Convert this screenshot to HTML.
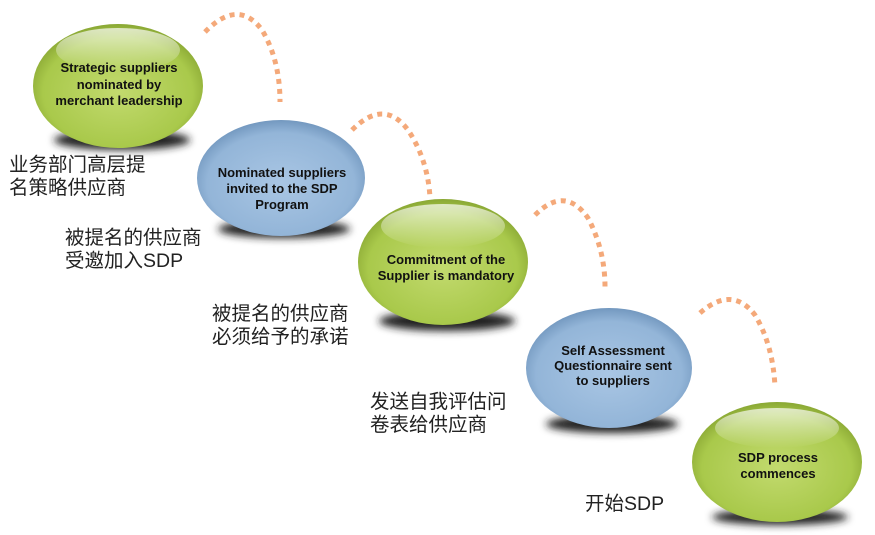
<!DOCTYPE html>
<html><head><meta charset="utf-8"><style>
body{margin:0;background:#fff;width:875px;height:535px;overflow:hidden;position:relative;font-family:"Liberation Sans",sans-serif}
.cn{position:absolute;font-family:"Liberation Sans","Noto Sans CJK SC",sans-serif;font-size:19.5px;line-height:22.5px;color:#222}
</style></head><body>
<svg width="875" height="535" style="position:absolute;left:0;top:0">
<defs>
<radialGradient id="g" cx="50%" cy="55%" r="55%"><stop offset="0" stop-color="#c2da6e"/><stop offset="0.8" stop-color="#a9c94b"/><stop offset="1" stop-color="#8aa834"/></radialGradient>
<radialGradient id="b" cx="50%" cy="55%" r="55%"><stop offset="0" stop-color="#a9c6e4"/><stop offset="0.8" stop-color="#93b5d8"/><stop offset="1" stop-color="#7398bf"/></radialGradient>
<linearGradient id="hl" x1="0" y1="0" x2="0" y2="1"><stop offset="0" stop-color="#fff" stop-opacity="0.7"/><stop offset="1" stop-color="#fff" stop-opacity="0"/></linearGradient>
<filter id="bl"><feGaussianBlur stdDeviation="4"/></filter>
</defs>
<g fill="none" stroke="#f4a97a" stroke-width="5" stroke-dasharray="5 5">
<path d="M205 32 Q238 -2 262 30 Q280 60 280 102"/>
<path d="M352 130 Q384 98 408 130 Q428 160 430 198"/>
<path d="M535 215 Q565 185 588 218 Q605 250 605 287"/>
<path d="M700 313 Q732 285 755 315 Q773 345 775 387"/>
</g>
<g filter="url(#bl)" fill="#222">
<ellipse cx="122" cy="140" rx="68" ry="10"/>
<ellipse cx="284" cy="229" rx="66" ry="9"/>
<ellipse cx="447" cy="321" rx="68" ry="10"/>
<ellipse cx="612" cy="424" rx="66" ry="9"/>
<ellipse cx="780" cy="517" rx="68" ry="8"/>
</g>
<ellipse cx="118" cy="86" rx="85" ry="62" fill="url(#g)"/>
<ellipse cx="118" cy="50" rx="62" ry="22" fill="url(#hl)"/>
<ellipse cx="281" cy="178" rx="84" ry="58" fill="url(#b)"/>
<ellipse cx="443" cy="262" rx="85" ry="63" fill="url(#g)"/>
<ellipse cx="443" cy="226" rx="62" ry="22" fill="url(#hl)"/>
<ellipse cx="609" cy="368" rx="83" ry="60" fill="url(#b)"/>
<ellipse cx="777" cy="462" rx="85" ry="60" fill="url(#g)"/>
<ellipse cx="777" cy="428" rx="62" ry="20" fill="url(#hl)"/>
<g font-family="Liberation Sans,sans-serif" font-weight="bold" font-size="13" text-anchor="middle" fill="#111">
<text x="119" y="72">Strategic suppliers</text><text x="119" y="89">nominated by</text><text x="119" y="105">merchant leadership</text>
<text x="282" y="177">Nominated suppliers</text><text x="282" y="193">invited to the SDP</text><text x="282" y="209">Program</text>
<text x="446" y="264">Commitment of the</text><text x="446" y="280">Supplier is mandatory</text>
<text x="613" y="355">Self Assessment</text><text x="613" y="370">Questionnaire sent</text><text x="613" y="385">to suppliers</text>
<text x="778" y="462">SDP process</text><text x="778" y="478">commences</text>
</g>
</svg>
<div class="cn" style="left:9px;top:154px">业务部门高层提<br>名策略供应商</div>
<div class="cn" style="left:65px;top:227px">被提名的供应商<br>受邀加入SDP</div>
<div class="cn" style="left:212px;top:303px">被提名的供应商<br>必须给予的承诺</div>
<div class="cn" style="left:370px;top:391px">发送自我评估问<br>卷表给供应商</div>
<div class="cn" style="left:585px;top:493px">开始SDP</div>
</body></html>
